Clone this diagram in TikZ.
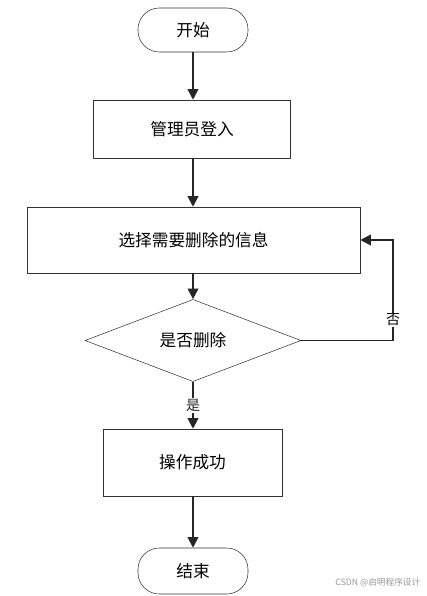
\documentclass[tikz,border=0pt]{standalone}
\usepackage{fontspec}
\newfontfamily\cjk{Noto Sans CJK SC}
\usepackage{tikz}
\usetikzlibrary{shapes.geometric, arrows.meta, positioning}
\tikzset{
    terminal/.style={rectangle, draw=black!80, rounded corners=16pt, font=\cjk\fontsize{12.5}{14}\selectfont, minimum width=82.5pt, minimum height=33pt},
    process/.style={rectangle, draw=black!80, font=\cjk\fontsize{12.5}{14}\selectfont, align=center},
    decision/.style={diamond, draw=black!80, font=\cjk\fontsize{12.5}{14}\selectfont, inner sep=0pt, minimum width=162pt, minimum height=53pt},
    answer/.style={font=\cjk\fontsize{10.5}{12}\selectfont, fill=white, inner sep=1pt},
    arrow/.style={line width=1.4pt, black!85, -{Triangle[length=8pt, width=8pt]}}
}
\begin{document}
\begin{tikzpicture}[x=0.75pt, y=-0.75pt]
        \useasboundingbox (0,0) rectangle (427,596);
        % Flow
        \node (F_start) [terminal] at (193, 30) {开始};
        \node (F_login) [process, minimum width=147.75pt, minimum height=43.5pt] at (192, 129) {管理员登入};
        \node (F_select) [process, minimum width=249.75pt, minimum height=49.5pt] at (193.5, 240) {选择需要删除的信息};
        \node (F_decide) [decision] at (193, 340.5) {是否删除};
        \node (F_done) [process, minimum width=134.25pt, minimum height=50.25pt] at (192.5, 462.5) {操作成功};
        \node (F_end) [terminal, minimum height=34.5pt] at (193, 571) {结束};
        \coordinate (F_turn) at (393, 240);
        \coordinate (F_corner) at (393, 340.5);

        \draw[arrow] (F_start) -- (F_start |- F_login.north);
        \draw[arrow] (F_login.south -| F_start) -- (F_start |- F_select.north);
        \draw[arrow] (F_select.south -| F_decide) -- (F_decide.north);
        \draw[arrow] (F_decide.south) -- node[answer] {是} (F_decide |- F_done.north);
        \draw[arrow] (F_done.south -| F_end) -- (F_end.north);

        % No: back to select
        \draw[arrow] (F_decide.east) -- (F_corner) -- (F_turn) -- (F_select.east);
        \node (F_no) [answer] at (393, 320) {否};

        % watermark
        \node (F_mark) [font=\cjk\fontsize{6.5}{8}\selectfont, text=black!40, anchor=east] at (425, 583) {CSDN @启明程序设计};
    \end{tikzpicture}
\end{document}
